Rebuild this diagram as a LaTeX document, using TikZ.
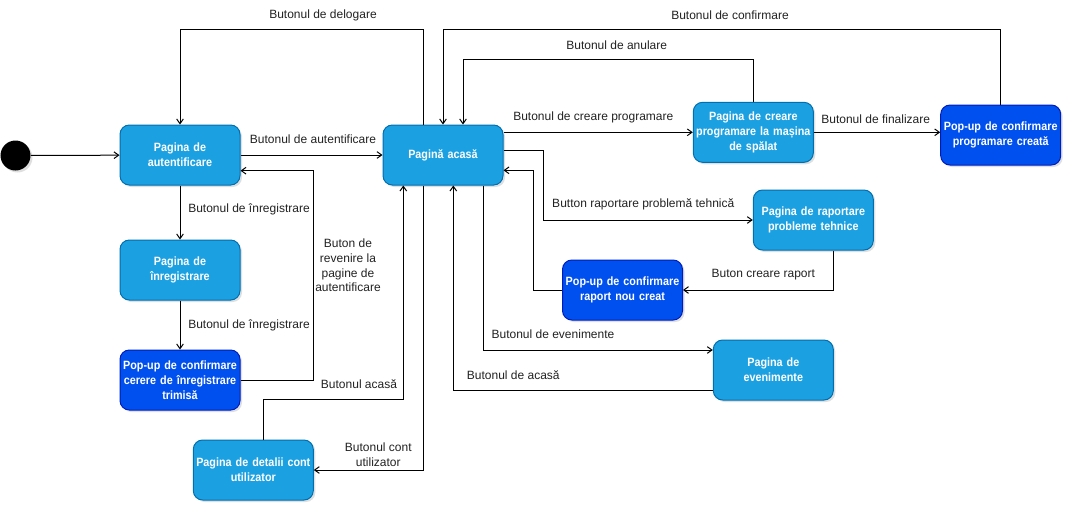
\documentclass[tikz,border=0pt]{standalone}
\usepackage{fontspec}
\setmainfont{Liberation Sans}
\newfontfamily\statefont[FakeStretch=0.9]{Liberation Sans}
\usetikzlibrary{arrows.meta,positioning,calc,shadows}
\definecolor{StateBlue}{HTML}{1BA1E2}
\definecolor{StateBlueLine}{HTML}{006EAF}
\definecolor{PopupBlue}{HTML}{0050EF}
\definecolor{PopupBlueLine}{HTML}{001DBC}
\definecolor{LabelInk}{HTML}{222222}
\tikzset{
  flow/.style={-{Straight Barb[length=3.5pt,width=5pt]},line width=0.75pt},
  btnlabel/.style={font=\fontsize{9}{11}\selectfont,text=LabelInk,align=center,inner sep=1pt},
  softshadow/.style={drop shadow={opacity=0.25,shadow xshift=1.5pt,shadow yshift=-1.5pt}},
}
\newcommand{\statebox}[4]{%
  \node[draw=#1Line,fill=#1,line width=0.75pt,rounded corners=7pt,
        text=white,align=center,text width=88pt,minimum height=45pt,
        inner xsep=1pt,inner ysep=1pt,
        font=\statefont\bfseries\fontsize{9}{11.25}\selectfont,
        softshadow,#4] (#2)
        {#3};%
}

\begin{document}
\begin{tikzpicture}[x=0.75pt,y=-0.75pt]
    \useasboundingbox (0,0) rectangle (1072,512);
    % states
    \node[circle,fill=black,minimum size=22.5pt,inner sep=0pt,softshadow] (start) at (15.5,155.5) {};
    \statebox{StateBlue}{auth}{Pagina de\\autentificare}{at={(180,155)}}
    \statebox{StateBlue}{home}{Pagină acasă}{at={(443,155)}}
    \statebox{StateBlue}{register}{Pagina de\\înregistrare}{at={(180,270)}}
    \statebox{PopupBlue}{popupReg}{Pop-up de confirmare\\cerere de înregistrare\\trimisă}{at={(180,380)}}
    \statebox{StateBlue}{account}{Pagina de detalii cont\\utilizator}{at={(253.3,470)}}
    \statebox{StateBlue}{create}{Pagina de creare\\programare la mașina\\de spălat}{at={(753.3,132.3)}}
    \statebox{PopupBlue}{popupProg}{Pop-up de confirmare\\programare creată}{at={(1000.7,135)}}
    \statebox{StateBlue}{report}{Pagina de raportare\\probleme tehnice}{at={(813.3,220)}}
    \statebox{PopupBlue}{popupRep}{Pop-up de confirmare\\raport nou creat}{at={(622.5,290)}}
    \statebox{StateBlue}{events}{Pagina de\\evenimente}{at={(773.3,370)}}
    % transitions
    \draw[flow] (start) -- (auth);
    \draw[flow] (auth) -- (home);
    \draw[flow] ([shift={(-20,0)}]home.north) -- ++(0,-95) -| (auth.north);
    \draw[flow] (auth) -- (register);
    \draw[flow] (register) -- (popupReg);
    \draw[flow] (popupReg.east) -- ++(73.3,0) |- ([shift={(0,15.7)}]auth.east);
    \draw[flow] (home.east |- create.west) -- (create.west);
    \draw[flow] (create.east) -- (create.east -| popupProg.west);
    \draw[flow] (popupProg.north) -- ++(0,-75) -| (home.north);
    \draw[flow] (create.north) -- ++(0,-42) -| ([shift={(20,0)}]home.north);
    \draw[flow] ([shift={(0,-4.3)}]home.east) -- ++(40.3,0) |- (report.west);
    \draw[flow] ([shift={(20,0)}]report.south) |- (popupRep.east);
    \draw[flow] (popupRep.west) -- ++(-29,0) |- ([shift={(0,15.3)}]home.east);
    \draw[flow] ([shift={(40.3,0)}]home.south) |- ([shift={(0,-20)}]events.west);
    \draw[flow] ([shift={(0,20)}]events.west) -| ([shift={(10.3,0)}]home.south);
    \draw[flow] ([shift={(-19.7,0)}]home.south) |- (account.east);
    \draw[flow] ([shift={(10,0)}]account.north) -- ++(0,-40) -| ([shift={(-39.7,0)}]home.south);
    % button labels
    \node[btnlabel] (lblLogout) at (323,15) {Butonul de delogare};
    \node[btnlabel] (lblLogin) at (313,139) {Butonul de autentificare};
    \node[btnlabel] (lblReg1) at (249,209) {Butonul de înregistrare};
    \node[btnlabel] (lblReg2) at (249,325) {Butonul de înregistrare};
    \node[btnlabel] (lblBack) at (348,265.5) {Buton de\\revenire la\\pagine de\\autentificare};
    \node[btnlabel] (lblHome1) at (359,384) {Butonul acasă};
    \node[btnlabel] (lblAccount) at (378.3,455) {Butonul cont\\utilizator};
    \node[btnlabel] (lblConfirm) at (730,15) {Butonul de confirmare};
    \node[btnlabel] (lblCancel) at (616.7,45) {Butonul de anulare};
    \node[btnlabel] (lblCreate) at (593.3,117) {Butonul de creare programare};
    \node[btnlabel] (lblFinish) at (875.7,119.3) {Butonul de finalizare};
    \node[btnlabel] (lblReport) at (643.3,204) {Button raportare problemă tehnică};
    \node[btnlabel] (lblNewReport) at (763.3,274.7) {Buton creare raport};
    \node[btnlabel] (lblEvents) at (553,334.3) {Butonul de evenimente};
    \node[btnlabel] (lblHome2) at (513.3,375) {Butonul de acasă};
\end{tikzpicture}
\end{document}
